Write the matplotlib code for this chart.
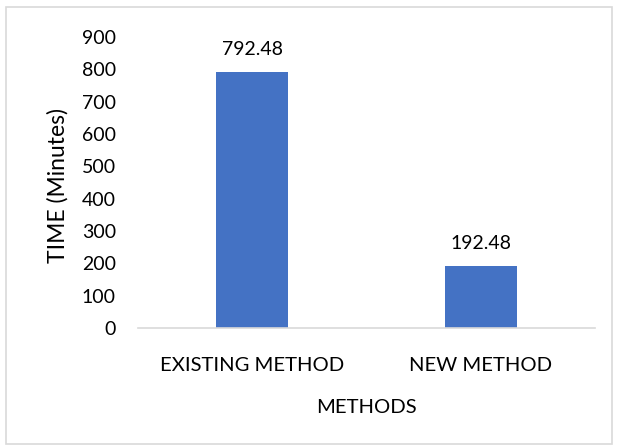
# Bar chart of processing time for existing vs new method

import matplotlib.pyplot as plt
from matplotlib.patches import Rectangle

plt.rcParams['font.family'] = ['Lato', 'DejaVu Sans']

methods = ["EXISTING METHOD", "NEW METHOD"]
times = [792.48, 192.48]
y_ticks = [0, 100, 200, 300, 400, 500, 600, 700, 800, 900]

fig = plt.figure(figsize=(6.19, 4.46), dpi=100)
ax = fig.add_axes([138 / 619, 1 - 328 / 446, 457 / 619, 291 / 446])

# outer chart border, like the spreadsheet frame
fig.patches.append(Rectangle((6 / 619, 2 / 446), 606 / 619, 437 / 446,
                             transform=fig.transFigure, fill=False,
                             edgecolor='#D9D9D9', linewidth=1.2))

x = range(len(methods))
bars = ax.bar(x, times, width=0.314, color='#4472C4')
ax.set_xlim(-0.5, len(methods) - 0.5)
ax.set_ylim(0, 900)
ax.set_yticks(y_ticks)
ax.set_xticks(list(x))
ax.set_xticklabels(methods, fontsize=14.6)

for b, v in zip(bars, times):
    ax.annotate(f"{v:.2f}", (b.get_x() + b.get_width() / 2, v),
                xytext=(0, 10), textcoords='offset points',
                ha='center', va='bottom', fontsize=14, color='#000000')

for s in ['top', 'right', 'left']:
    ax.spines[s].set_visible(False)
ax.spines['bottom'].set_color('#D9D9D9')
ax.spines['bottom'].set_linewidth(1.2)
ax.tick_params(axis='both', length=0, colors='#000000')
ax.tick_params(axis='y', pad=16, labelsize=14)
ax.tick_params(axis='x', pad=21)

ax.set_xlabel("METHODS", fontsize=14.6, labelpad=18)
ax.set_ylabel("TIME (Minutes)", fontsize=16.5)
ax.yaxis.set_label_coords(-0.153, 0.488)

plt.savefig("out.png", dpi=100)
plt.close()
